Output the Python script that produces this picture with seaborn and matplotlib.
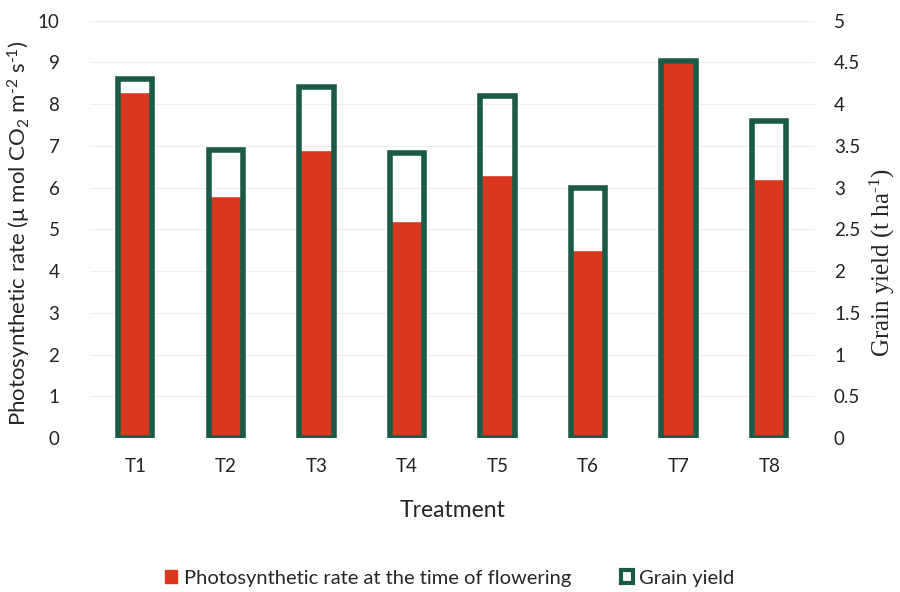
import matplotlib
matplotlib.use("Agg")
import matplotlib.pyplot as plt
import seaborn as sns
import pandas as pd
from matplotlib.patches import Patch

# Data
treatments = ["T1", "T2", "T3", "T4", "T5", "T6", "T7", "T8"]
photo_rate = [8.3, 5.8, 6.9, 5.2, 6.3, 4.5, 9.0, 6.2]
grain_yield = [4.3, 3.45, 4.2, 3.42, 4.1, 3.0, 4.52, 3.8]
yield_ticks = ["0", "0.5", "1", "1.5", "2", "2.5", "3", "3.5", "4", "4.5", "5"]

df = pd.DataFrame({"Treatment": treatments,
                   "Photo": photo_rate,
                   "Yield": grain_yield})

sns.set_theme(style="white")
plt.rcParams["font.family"] = ["Lato", "DejaVu Sans"]
plt.rcParams["mathtext.default"] = "regular"

red = "#d9381e"
green = "#1b5a47"

fig, ax = plt.subplots(figsize=(9, 5.92), dpi=100)
fig.subplots_adjust(left=0.1, right=0.905, top=0.965, bottom=0.26)

sns.barplot(data=df, x="Treatment", y="Photo", color=red, width=0.38,
            saturation=1, ax=ax)
ax.set_ylim(0, 10)
ax.set_yticks(range(0, 11))
ax.yaxis.grid(True, color="#efefef", linewidth=0.8)
ax.set_axisbelow(True)

ax2 = ax.twinx()
sns.barplot(data=df, x="Treatment", y="Yield", width=0.38, ax=ax2,
            facecolor="none", edgecolor=green, linewidth=4)
ax2.set_ylim(0, 5)
ax2.set_yticks([float(t) for t in yield_ticks])
ax2.set_yticklabels(yield_ticks)

for a in (ax, ax2):
    for s in a.spines.values():
        s.set_visible(False)
    a.tick_params(length=0, labelsize=13.5, colors="#222222")

ax.tick_params(axis="y", pad=22)
ax.tick_params(axis="x", pad=14)
ax2.tick_params(axis="y", pad=14)

ax.set_xlabel("Treatment", fontsize=16.5, labelpad=18)
ax.set_ylabel("Photosynthetic rate (\u03bc mol CO$_2$ m$^{\u2010 2}$ s$^{\u20101}$)",
              fontsize=16)
ax.yaxis.set_label_coords(-0.078, 0.49)
ax2.set_ylabel("Grain yield (t ha$^{\u20101}$)", fontsize=18,
               family="Liberation Serif")
ax2.yaxis.set_label_coords(1.074, 0.42)

handles = [Patch(facecolor=red, edgecolor=red),
           Patch(facecolor="white", edgecolor=green, linewidth=3)]
fig.legend(handles, ["Photosynthetic rate at the time of flowering", "Grain yield"],
           loc="lower center", bbox_to_anchor=(0.5, -0.022), ncol=2, frameon=False,
           fontsize=14.5, handlelength=0.6, handleheight=0.6, handletextpad=0.3,
           columnspacing=2.5)

fig.savefig("out.png", dpi=100)
